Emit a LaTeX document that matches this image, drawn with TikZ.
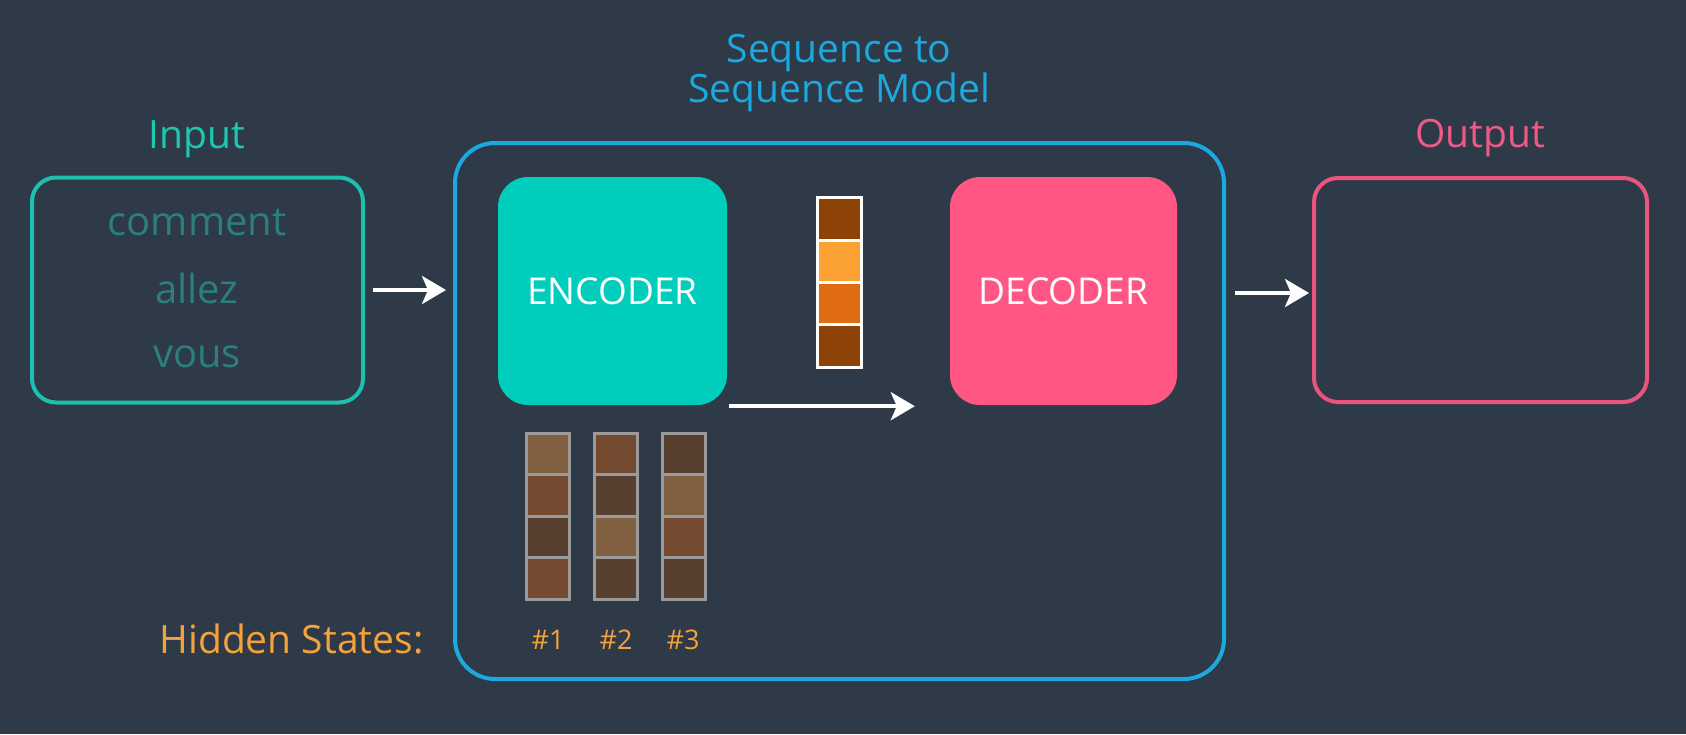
\documentclass[tikz,border=0pt]{standalone}
\usepackage{fontspec}
\setmainfont{Open Sans}
\usetikzlibrary{arrows.meta}
\definecolor{bg}{HTML}{2E3A48}
\definecolor{tealt}{HTML}{1CC8B0}
\definecolor{tealb}{HTML}{1DBFAE}
\definecolor{words}{HTML}{2B7F7C}
\definecolor{bluem}{HTML}{1BA9DF}
\definecolor{encc}{HTML}{00CDBB}
\definecolor{decc}{HTML}{FF5683}
\definecolor{outb}{HTML}{E9557F}
\definecolor{outt}{HTML}{EE5A86}
\definecolor{orng}{HTML}{F6A23A}
\definecolor{vdark}{HTML}{8E4306}
\definecolor{vlight}{HTML}{FBA134}
\definecolor{vmid}{HTML}{DF6B12}
\definecolor{hl}{HTML}{806040}
\definecolor{hm}{HTML}{744B30}
\definecolor{hd}{HTML}{574030}
\definecolor{hgrid}{HTML}{9A9A9A}
\tikzset{
  frame/.style={draw, line width=4pt, rounded corners=24pt, inner sep=0pt},
  block/.style={fill, rounded corners=30pt, inner sep=0pt, minimum width=228pt, minimum height=228pt, text=white, font=\fontsize{37}{40}\selectfont},
  arr/.style={draw=white, line width=4pt, -{Stealth[length=24pt, width=28pt, inset=6pt]}},
  vcell/.style={draw=white, line width=3pt, minimum width=44pt, minimum height=42.25pt, inner sep=0pt},
  hcell/.style={draw=hgrid, line width=3pt, minimum width=43pt, minimum height=41.5pt, inner sep=0pt},
  title/.style={font=\fontsize{39}{40}\selectfont, anchor=base},
  word/.style={font=\fontsize{40}{40}\selectfont, anchor=base, text=words},
  num/.style={font=\fontsize{27}{28}\selectfont, anchor=base, text=orng}
}
\begin{document}
\begin{tikzpicture}[x=1pt,y=-1pt]
\fill[bg] (0,0) rectangle (1686,734);
\useasboundingbox (0,0) rectangle (1686,734);
% titles
\node[title, text=tealt] (tin) at (197,148) {Input};
\node[title, text=bluem] (tseq1) at (839,62) {Sequence to};
\node[title, text=bluem] (tseq2) at (839,102) {Sequence Model};
\node[title, text=outt] (tout) at (1480,147) {Output};
% frames
\node[frame, draw=tealb, minimum width=331pt, minimum height=225pt] (inbox) at (197.5,290) {};
\node[frame, draw=bluem, rounded corners=40pt, minimum width=769pt, minimum height=536pt] (model) at (839.5,411) {};
\node[frame, draw=outb, minimum width=333pt, minimum height=224pt] (outbox) at (1480.5,290) {};
% input words
\node[word] (w1) at (197,235) {comment};
\node[word] (w2) at (197,303) {allez};
\node[word] (w3) at (197,367) {vous};
% encoder / decoder
\node[block, fill=encc, minimum width=229pt] (enc) at (612.5,291) {ENCODER};
\node[block, fill=decc, minimum width=227pt] (dec) at (1063.5,291) {DECODER};
% context vector
\node[vcell, fill=vdark] (c1) at (839,219.1) {};
\node[vcell, fill=vlight] (c2) at (839,261.4) {};
\node[vcell, fill=vmid] (c3) at (839,303.6) {};
\node[vcell, fill=vdark] (c4) at (839,345.9) {};
% hidden states
\node[hcell, fill=hl] (a1) at (547.5,453.75) {};
\node[hcell, fill=hm] (a2) at (547.5,495.25) {};
\node[hcell, fill=hd] (a3) at (547.5,536.75) {};
\node[hcell, fill=hm] (a4) at (547.5,578.25) {};
\node[hcell, fill=hm] (b1) at (615.5,453.75) {};
\node[hcell, fill=hd] (b2) at (615.5,495.25) {};
\node[hcell, fill=hl] (b3) at (615.5,536.75) {};
\node[hcell, fill=hd] (b4) at (615.5,578.25) {};
\node[hcell, fill=hd] (d1) at (683.5,453.75) {};
\node[hcell, fill=hl] (d2) at (683.5,495.25) {};
\node[hcell, fill=hm] (d3) at (683.5,536.75) {};
\node[hcell, fill=hd] (d4) at (683.5,578.25) {};
\node[num] (n1) at (548,649) {\#1};
\node[num] (n2) at (616,649) {\#2};
\node[num] (n3) at (683,649) {\#3};
\node[title, text=orng, anchor=base west] (hs) at (156,653) {Hidden States:};
% arrows
\draw[arr, shorten <=8pt, shorten >=7pt] (inbox.east) -- (inbox.east -| model.west);
\draw[arr, shorten <=2pt, shorten >=35pt] ([yshift=-1pt]enc.south east) -- ([yshift=-1pt]enc.south east -| dec.west);
\draw[arr, shorten <=9pt, shorten >=3pt] ([yshift=-2pt]dec.east -| model.east) -- ([yshift=-2pt]dec.east -| outbox.west);
\end{tikzpicture}
\end{document}
